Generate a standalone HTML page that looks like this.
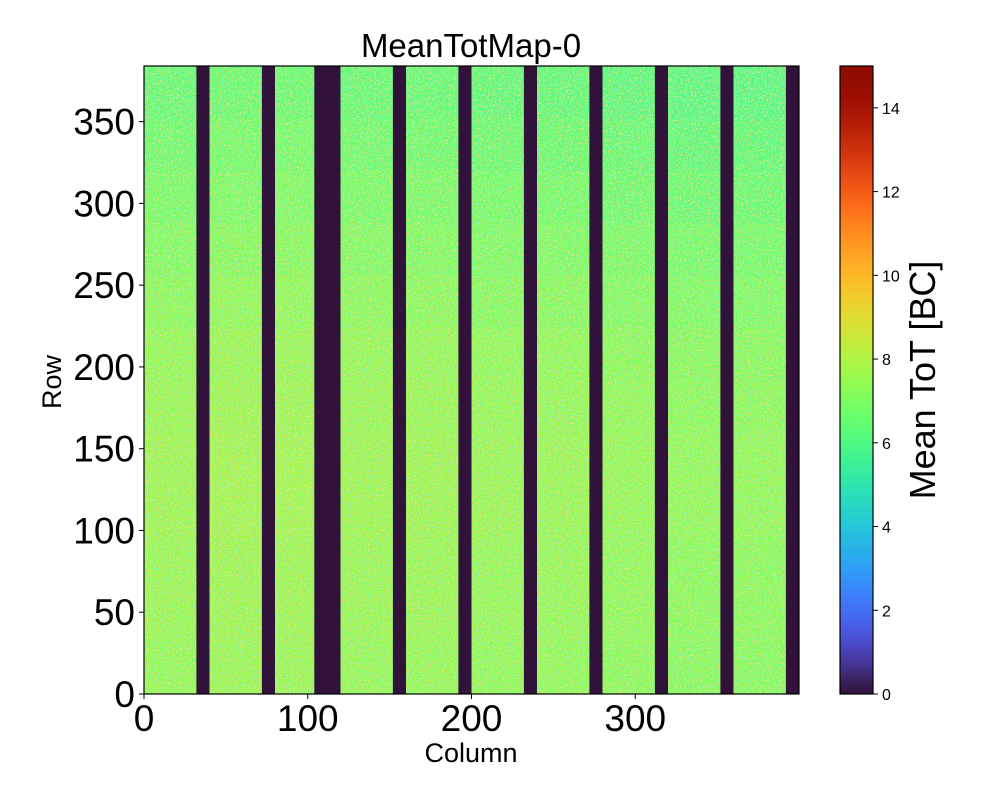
<!DOCTYPE html>
<html><head><meta charset="utf-8">
<style>
html,body{margin:0;padding:0;background:#fff;}
svg text{font-family:"Liberation Sans",sans-serif;fill:#000;}
</style></head>
<body>
<svg id="chart" width="1000" height="800" viewBox="0 0 1000 800" xmlns="http://www.w3.org/2000/svg">
<defs>
<filter id="noiseA" x="0" y="0" width="100%" height="100%">
<feTurbulence type="fractalNoise" baseFrequency="0.6" numOctaves="1" seed="3"/>
<feColorMatrix type="matrix" values="0 0 0 0 0.25  0 0 0 0 0.88  0 0 0 0 0.62  3.2 0 0 0 -1.55"/>
</filter>
<filter id="noiseB" x="0" y="0" width="100%" height="100%">
<feTurbulence type="fractalNoise" baseFrequency="0.6" numOctaves="1" seed="11"/>
<feColorMatrix type="matrix" values="0 0 0 0 0.93  0 0 0 0 0.78  0 0 0 0 0.2  0 3.2 0 0 -1.6"/>
</filter>
<filter id="noiseC" x="0" y="0" width="100%" height="100%">
<feTurbulence type="fractalNoise" baseFrequency="0.7" numOctaves="1" seed="27"/>
<feColorMatrix type="matrix" values="0 0 0 0 0.97  0 0 0 0 0.45  0 0 0 0 0.1  0 0 4 0 -2.5"/>
</filter>
<linearGradient id="cbgrad" x1="0" y1="1" x2="0" y2="0"></linearGradient>
<clipPath id="plotclip"><rect x="144" y="66" width="655" height="628"/></clipPath>
</defs>
<text x="471" y="57" font-size="33" text-anchor="middle">MeanTotMap-0</text>
<g id="heat"></g>
<g clip-path="url(#plotclip)">
<rect x="144" y="66" width="655" height="628" filter="url(#noiseA)"/>
<rect x="144" y="66" width="655" height="628" filter="url(#noiseB)"/>
<rect x="144" y="66" width="655" height="628" filter="url(#noiseC)"/>
</g>
<g id="dead"></g>
<rect x="144" y="66" width="655" height="628" fill="none" stroke="#000" stroke-width="1.2"/>
<g id="xticks"></g>
<g id="yticks"></g>
<text x="471" y="762" font-size="27" text-anchor="middle">Column</text>
<text transform="translate(61,382) rotate(-90)" font-size="27" text-anchor="middle">Row</text>
<rect x="840" y="66" width="33" height="628" fill="url(#cbgrad)" stroke="#000" stroke-width="1.2"/>
<g id="cbticks"></g>
<text transform="translate(935,380) rotate(-90)" font-size="36" text-anchor="middle">Mean ToT [BC]</text>
</svg>
<script>
const nCols = 400, nRows = 384;
const deadStart = [32, 72, 104, 152, 192, 232, 272, 312, 352, 392];
const deadEnd   = [40, 80, 120, 160, 200, 240, 280, 320, 360, 400];
const rowBandStart = [0, 32, 64, 96, 128, 160, 192, 224, 256, 288, 320, 352];
const rowBandMean  = [7.4, 7.5, 7.5, 7.6, 7.6, 7.5, 7.4, 7.2, 7.0, 6.8, 6.6, 6.4];
const colBandStart = [0, 40, 80, 120, 160, 200, 240, 280, 320, 360];
const colBandOffset = [0.0, 0.1, 0.1, 0.0, 0.0, -0.1, -0.1, -0.2, -0.3, -0.3];
const xTicks = [0, 100, 200, 300];
const yTicks = [0, 50, 100, 150, 200, 250, 300, 350];
const cbTicks = [0, 2, 4, 6, 8, 10, 12, 14];
const vmin = 0, vmax = 15;

const X0 = 144, X1 = 799, Y0 = 694, Y1 = 66, CB0 = 694, CB1 = 66;
const xs = c => X0 + (c / nCols) * (X1 - X0);
const ys = r => Y0 - (r / nRows) * (Y0 - Y1);
const cbs = v => CB0 - ((v - vmin) / (vmax - vmin)) * (CB0 - CB1);

function turbo(t) {
  t = Math.max(0, Math.min(1, t));
  const r = 0.13572138 + t*(4.61539260 + t*(-42.66032258 + t*(132.13108234 + t*(-152.94239396 + t*59.28637943))));
  const g = 0.09140261 + t*(2.19418839 + t*(4.84296658 + t*(-14.18503333 + t*(4.27729857 + t*2.82956604))));
  const b = 0.10667330 + t*(12.64194608 + t*(-60.58204836 + t*(110.36276771 + t*(-89.90310912 + t*27.34824973))));
  const f = x => Math.round(Math.max(0, Math.min(1, x)) * 255);
  if (t < 0.01) return '#30123b';
  return `rgb(${f(r)},${f(g)},${f(b)})`;
}
const NS = "http://www.w3.org/2000/svg";
function mk(tag, attrs, parent) {
  const e = document.createElementNS(NS, tag);
  for (const k in attrs) e.setAttribute(k, attrs[k]);
  parent.appendChild(e);
  return e;
}

const heat = document.getElementById('heat');
colBandStart.forEach((c0, ci) => {
  const c1 = ci + 1 < colBandStart.length ? colBandStart[ci + 1] : nCols;
  rowBandStart.forEach((r0, ri) => {
    const r1 = ri + 1 < rowBandStart.length ? rowBandStart[ri + 1] : nRows;
    const v = rowBandMean[ri] + colBandOffset[ci];
    const e = mk('rect', {x: xs(c0), y: ys(r1), width: xs(c1) - xs(c0) + 0.5, height: ys(r0) - ys(r1) + 0.5, fill: turbo((v - vmin) / (vmax - vmin))}, heat);
    
    
  });
});
const dead = document.getElementById('dead');
deadStart.forEach((s, i) => {
  const e = mk('rect', {x: xs(s), y: Y1, width: xs(deadEnd[i]) - xs(s), height: Y0 - Y1, fill: '#30123b'}, dead);
  
  
});
const xg = document.getElementById('xticks');
xTicks.forEach(t => {
  const e = mk('line', {x1: xs(t), x2: xs(t), y1: Y0, y2: Y0 + 5, stroke: '#000'}, xg);
  
  
  const l = mk('text', {x: xs(t), y: Y0 + 37, 'font-size': 37, 'text-anchor': 'middle'}, xg);
  l.textContent = t;
  
  
});
const yg = document.getElementById('yticks');
yTicks.forEach(t => {
  const e = mk('line', {x1: X0 - 5, x2: X0, y1: ys(t), y2: ys(t), stroke: '#000'}, yg);
  
  
  const l = mk('text', {x: X0 - 9, y: ys(t) + 13, 'font-size': 37, 'text-anchor': 'end'}, yg);
  l.textContent = t;
  
  
});
const grad = document.getElementById('cbgrad');
for (let i = 0; i <= 40; i++) {
  mk('stop', {offset: (i / 40), 'stop-color': i === 0 ? '#30123b' : turbo(i / 40)}, grad);
}
const cg = document.getElementById('cbticks');
cbTicks.forEach(t => {
  const e = mk('line', {x1: 873, x2: 878, y1: cbs(t), y2: cbs(t), stroke: '#000'}, cg);
  
  
  const l = mk('text', {x: 882, y: cbs(t) + 6, 'font-size': 16}, cg);
  l.textContent = t;
  
  
});
</script>
</body></html>
